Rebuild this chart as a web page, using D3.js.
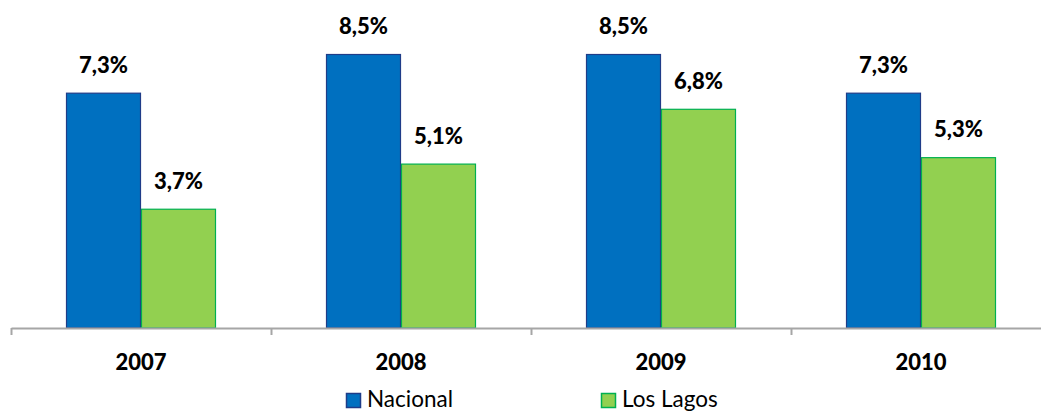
<!DOCTYPE html>
<html>
<head>
<meta charset="utf-8">
<script src="https://cdn.jsdelivr.net/npm/d3@7"></script>
<style>
  body { margin: 0; background: #fff; }
  svg text { font-family: Lato, "Open Sans", sans-serif; fill: #000; }
</style>
</head>
<body>
<div id="my_dataviz"></div>
<script>
// data
var years = ["2007", "2008", "2009", "2010"];
var seriesNames = ["Nacional", "Los Lagos"];
var nacional = [7.3, 8.5, 8.5, 7.3];
var losLagos = [3.7, 5.1, 6.8, 5.3];
var valueLabels = {
  "Nacional": ["7,3%", "8,5%", "8,5%", "7,3%"],
  "Los Lagos": ["3,7%", "5,1%", "6,8%", "5,3%"]
};

var fills = {"Nacional": "#0070C0", "Los Lagos": "#92D050"};
var strokes = {"Nacional": "#1F3C88", "Los Lagos": "#00B050"};

var width = 1041, height = 412;
var baseY = 328;

var svg = d3.select("#my_dataviz")
  .append("svg")
  .attr("width", width)
  .attr("height", height);

// scales
var x = d3.scaleBand()
  .domain(years)
  .range([11, 1051])
  .padding(0);

var x1 = d3.scaleBand()
  .domain(seriesNames)
  .range([55, 205])
  .padding(0);

var y = d3.scaleLinear()
  .domain([0, 8.5])
  .range([baseY, 54]);

var rows = years.map(function(yr, i) {
  return {year: yr, values: [
    {name: "Nacional", v: nacional[i], label: valueLabels["Nacional"][i]},
    {name: "Los Lagos", v: losLagos[i], label: valueLabels["Los Lagos"][i]}
  ]};
});

var groups = svg.append("g")
  .selectAll("g")
  .data(rows)
  .enter()
  .append("g")
    .attr("transform", function(d) { return "translate(" + x(d.year) + ",0)"; });

groups.selectAll("rect")
  .data(function(d) { return d.values; })
  .enter()
  .append("rect")
    .attr("x", function(d) { return x1(d.name) + 0.5; })
    .attr("y", function(d) { return y(d.v) + 0.5; })
    .attr("width", x1.bandwidth() - 1)
    .attr("height", function(d) { return baseY - y(d.v) - 0.5; })
    .style("fill", function(d) { return fills[d.name]; })
    .style("stroke", function(d) { return strokes[d.name]; })
    .style("stroke-width", 1.2);

groups.selectAll("text.val")
  .data(function(d) { return d.values; })
  .enter()
  .append("text")
    .attr("class", "val")
    .attr("x", function(d) { return x1(d.name) + x1.bandwidth() / 2; })
    .attr("y", function(d) { return y(d.v) - 20; })
    .attr("text-anchor", "middle")
    .style("font-size", "22px")
    .style("font-weight", "900")
    .text(function(d) { return d.label; });

// axis with ticks at category boundaries
var edges = d3.scaleLinear().domain([0, years.length]).range([11, 1051]);
var axis = svg.append("g")
  .attr("transform", "translate(0," + baseY + ")")
  .call(d3.axisBottom(edges).tickValues(d3.range(years.length + 1)).tickFormat("").tickSize(7).tickSizeOuter(0));
axis.select(".domain").attr("stroke", "#A6A6A6").attr("stroke-width", 2);
axis.selectAll(".tick line").attr("stroke", "#A6A6A6").attr("stroke-width", 2);

// category labels
svg.append("g")
  .selectAll("text")
  .data(years)
  .enter()
  .append("text")
    .attr("x", function(d) { return x(d) + x.bandwidth() / 2; })
    .attr("y", 370)
    .attr("text-anchor", "middle")
    .style("font-size", "22px")
    .style("font-weight", "900")
    .text(function(d) { return d; });

// legend
var legendX = [346, 601];
var legend = svg.append("g")
  .selectAll("g")
  .data(seriesNames)
  .enter()
  .append("g")
    .attr("transform", function(d, i) { return "translate(" + legendX[i] + ",393)"; });

legend.append("rect")
  .attr("x", 0.5).attr("y", 0.5)
  .attr("width", 14).attr("height", 14)
  .style("fill", function(d) { return fills[d]; })
  .style("stroke", function(d) { return strokes[d]; })
  .style("stroke-width", 1.5);

legend.append("text")
  .attr("x", 21)
  .attr("y", 14)
  .style("font-size", "22.5px")
  .text(function(d) { return d; });
</script>
</body>
</html>
